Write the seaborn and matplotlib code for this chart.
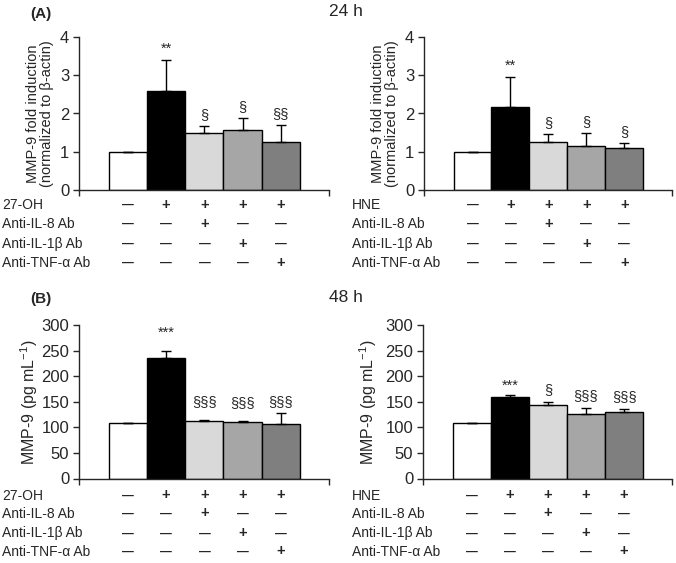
import matplotlib
matplotlib.use("Agg")
import matplotlib.pyplot as plt
import matplotlib.transforms as mtransforms
import seaborn as sns
import pandas as pd
import numpy as np

sns.set_style("ticks")
plt.rcParams['font.family'] = ['Liberation Sans', 'DejaVu Sans']
plt.rcParams['mathtext.fontset'] = 'custom'
plt.rcParams['mathtext.rm'] = 'Liberation Sans'

groups = ["Control", "Stim", "Stim+IL-8 Ab", "Stim+IL-1b Ab", "Stim+TNF Ab"]
bar_colors = ["#ffffff", "#000000", "#d9d9d9", "#a6a6a6", "#7f7f7f"]

# Panel A (24 h) - fold induction
a_oh_vals = [1.0, 2.60, 1.49, 1.56, 1.25]
a_oh_err = [0.0, 0.80, 0.19, 0.32, 0.45]
a_oh_sig = ["", "**", "§", "§", "§§"]
a_hne_vals = [1.0, 2.18, 1.25, 1.15, 1.10]
a_hne_err = [0.0, 0.78, 0.22, 0.33, 0.13]
a_hne_sig = ["", "**", "§", "§", "§"]

# Panel B (48 h) - pg/mL
b_oh_vals = [109, 236, 112, 110, 107]
b_oh_err = [0, 14, 2, 3, 21]
b_oh_sig = ["", "***", "§§§", "§§§", "§§§"]
b_hne_vals = [109, 160, 143, 127, 130]
b_hne_err = [0, 3, 6, 10, 5]
b_hne_sig = ["", "***", "§", "§§§", "§§§"]

row_labels_oh = ["27-OH", "Anti-IL-8 Ab", "Anti-IL-1β Ab", "Anti-TNF-α Ab"]
row_labels_hne = ["HNE", "Anti-IL-8 Ab", "Anti-IL-1β Ab", "Anti-TNF-α Ab"]
table_signs = [
    ["—", "+", "+", "+", "+"],
    ["—", "—", "+", "—", "—"],
    ["—", "—", "—", "+", "—"],
    ["—", "—", "—", "—", "+"],
]

W, H = 676, 563
fig = plt.figure(figsize=(W / 100, H / 100), dpi=100)


def px_axes(x0, x1, ytop, ybot):
    return fig.add_axes([x0 / W, 1 - ybot / H, (x1 - x0) / W, (ybot - ytop) / H])


def draw_panel(ax, vals, errs, sigs, ylim, yticks, ylabel, ylabel_size, label_x,
               row_labels, sig_offsets, label_fig_x, row_px):
    df = pd.DataFrame({"group": groups, "value": vals})
    sns.barplot(data=df, x="group", y="value", hue="group", palette=bar_colors,
                order=groups, hue_order=groups, legend=False, width=1.0,
                edgecolor="black", linewidth=1.0, ax=ax, errorbar=None,
                saturation=1)
    xs = np.arange(len(groups))
    lower = np.zeros(len(errs))
    ax.errorbar(xs, vals, yerr=[lower, errs], fmt="none", ecolor="black",
                elinewidth=1.0, capsize=3.5, capthick=1.0, zorder=5)
    for x, v, e, s, off in zip(xs, vals, errs, sigs, sig_offsets):
        if s:
            ax.annotate(s, (x, v + e), xytext=(0, off), textcoords="offset points",
                        ha="center", va="bottom", fontsize=10.5 if "§" in s else 10.5)
    ax.set_xlim(-1.28, 5.26)
    ax.set_ylim(*ylim)
    ax.set_yticks(yticks)
    ax.tick_params(axis="y", labelsize=12, length=4, width=1, pad=3, direction="out")
    ax.set_xticks([-1.28, 5.26])
    ax.set_xticklabels([])
    ax.tick_params(axis="x", length=4, width=1, direction="out")
    ax.set_xlabel("")
    ax.set_ylabel(ylabel, fontsize=ylabel_size, linespacing=1.0)
    ax.yaxis.set_label_coords(label_x, 0.5)
    for sp in ["top", "right"]:
        ax.spines[sp].set_visible(False)
    for sp in ["left", "bottom"]:
        ax.spines[sp].set_linewidth(1.0)
    # table
    ax_h = ax.get_position().height * H
    trans = mtransforms.blended_transform_factory(ax.transData, ax.transAxes)
    trans_lab = mtransforms.blended_transform_factory(fig.transFigure, ax.transAxes)
    for r, (lab, signs) in enumerate(zip(row_labels, table_signs)):
        yy = -row_px[r] / ax_h
        ax.text(label_fig_x, yy, lab, transform=trans_lab, ha="left", va="center",
                fontsize=10, clip_on=False)
        for x, sgn in zip(xs, signs):
            ax.text(x, yy, sgn, transform=trans, ha="center", va="center",
                    fontsize=10.5 if sgn == "+" else 8.5,
                    fontweight="bold", clip_on=False)


ylab_a = "MMP-9 fold induction\n(normalized to β-actin)"
ylab_b = "MMP-9 (pg mL$^{-1}$)"

rows_top = [15, 34, 54, 73]
rows_bot = [17, 35, 55, 73]

ax1 = px_axes(79, 329, 37, 190)
draw_panel(ax1, a_oh_vals, a_oh_err, a_oh_sig, (0, 4), [0, 1, 2, 3, 4], ylab_a, 10.5,
           -0.10, row_labels_oh, [2, 3, 3, 3, 3], 2 / W, rows_top)
ax2 = px_axes(424, 672, 37, 190)
draw_panel(ax2, a_hne_vals, a_hne_err, a_hne_sig, (0, 4), [0, 1, 2, 3, 4], ylab_a, 10.5,
           -0.10, row_labels_hne, [2, 3, 3, 3, 3], 352 / W, rows_top)
ax3 = px_axes(79, 329, 325, 478.5)
draw_panel(ax3, b_oh_vals, b_oh_err, b_oh_sig, (0, 300), [0, 50, 100, 150, 200, 250, 300],
           ylab_b, 11.5, -0.155, row_labels_oh, [2, 8, 8, 8, 3], 2 / W, rows_bot)
ax4 = px_axes(423, 672, 325, 478.5)
draw_panel(ax4, b_hne_vals, b_hne_err, b_hne_sig, (0, 300), [0, 50, 100, 150, 200, 250, 300],
           ylab_b, 11.5, -0.175, row_labels_hne, [2, 2, 4, 4, 4], 352 / W, rows_bot)

fig.text(30 / W, 1 - 14 / H, "(A)", fontsize=11, fontweight="bold", ha="left", va="center")
fig.text(346 / W, 1 - 12 / H, "24 h", fontsize=12.5, ha="center", va="center")
fig.text(30 / W, 1 - 299 / H, "(B)", fontsize=11, fontweight="bold", ha="left", va="center")
fig.text(346 / W, 1 - 297 / H, "48 h", fontsize=12.5, ha="center", va="center")

fig.savefig("out.png", dpi=100)
